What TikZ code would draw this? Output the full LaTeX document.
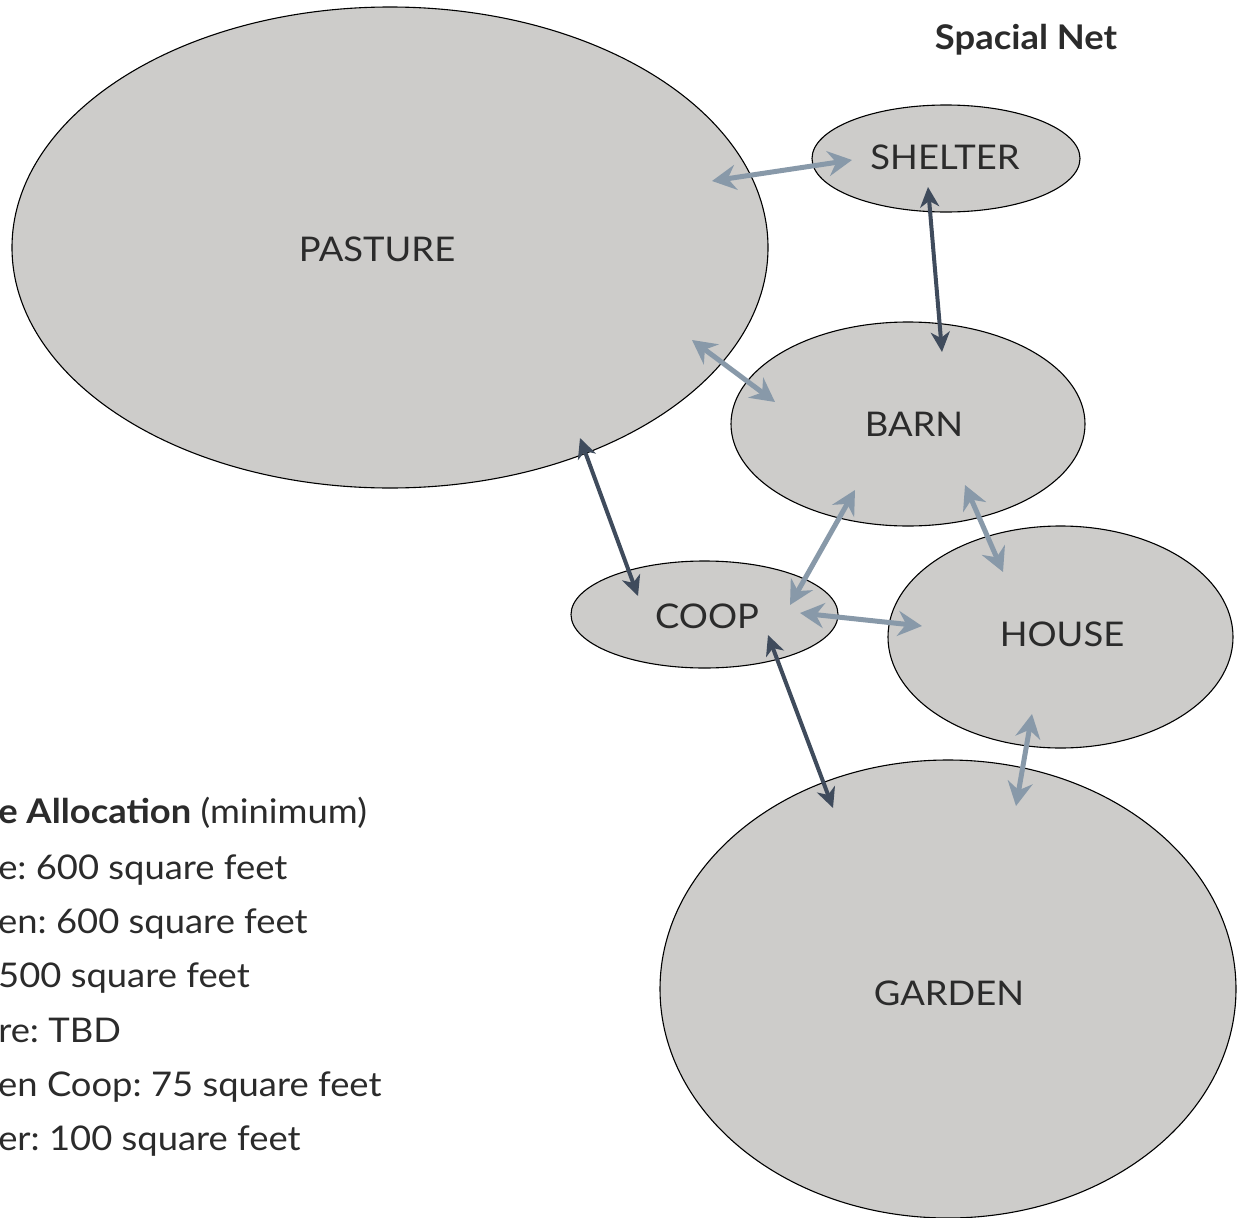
\documentclass[tikz,border=0pt]{standalone}
\usepackage{fontspec}
\setmainfont{Lato}[FakeStretch=1.07]
\usetikzlibrary{shapes.geometric,arrows.meta}
\definecolor{fillg}{HTML}{CDCCCA}
\definecolor{lightarr}{HTML}{8899A9}
\definecolor{darkarr}{HTML}{3F4B5C}
\definecolor{txt}{HTML}{2B2B2B}
\frenchspacing
\begin{document}
\begin{tikzpicture}[x=1pt,y=-1pt,
  area/.style={ellipse, draw=black, line width=1.1pt, fill=fillg, inner sep=0pt},
  lbl/.style={text=txt, font=\fontsize{34}{40}\selectfont, inner sep=0pt},
  legend/.style={text=txt, font=\fontsize{34}{40}\selectfont, inner sep=0pt, anchor=base west},
  lightlink/.style={draw=lightarr, line width=5pt,
    >={Stealth[length=24pt,width=25pt,inset=8pt]}, <->},
  darklink/.style={draw=darkarr, line width=4pt,
    >={Stealth[length=20pt,width=19pt,inset=6pt]}, <->}
]
\useasboundingbox (0,0) rectangle (1245,1218);
\clip (0,0) rectangle (1245,1218);

% areas
\node[area, minimum width=756pt, minimum height=481pt] (pasture) at (390,247.5) {};
\node[area, minimum width=268pt, minimum height=107pt] (shelter) at (946,158.5) {};
\node[area, minimum width=354pt, minimum height=204pt] (barn) at (908,424) {};
\node[area, minimum width=267pt, minimum height=107pt] (coop) at (704.5,614.5) {};
\node[area, minimum width=345pt, minimum height=222pt] (house) at (1060.5,637) {};
\node[area, minimum width=576pt, minimum height=458pt] (garden) at (948,989) {};

% labels
\node[lbl] (pastureL) at (377,249) {PASTURE};
\node[lbl] (shelterL) at (945,157) {SHELTER};
\node[lbl] (barnL) at (914,424) {BARN};
\node[lbl] (coopL) at (707,616) {COOP};
\node[lbl] (houseL) at (1062,634) {HOUSE};
\node[lbl] (gardenL) at (949,993) {GARDEN};
\node[text=txt, font=\fontsize{34}{40}\selectfont\bfseries, inner sep=0pt] (title) at (1026,40) {Spacial Net};

% connector end points
\coordinate (psA) at (712,181);  \coordinate (psB) at (852,160);
\coordinate (sbA) at (928,187);  \coordinate (sbB) at (942,352);
\coordinate (pbA) at (692,340);  \coordinate (pbB) at (775,402);
\coordinate (pcA) at (580,438);  \coordinate (pcB) at (638,596);
\coordinate (cbA) at (790,605);  \coordinate (cbB) at (855,490);
\coordinate (chA) at (800,613);  \coordinate (chB) at (922,626);
\coordinate (bhA) at (965,485);  \coordinate (bhB) at (1003,572);
\coordinate (cgA) at (768,635);  \coordinate (cgB) at (833,808);
\coordinate (hgA) at (1032,714); \coordinate (hgB) at (1016,806);

\draw[lightlink] (psA) -- (psB);
\draw[darklink]  (sbA) -- (sbB);
\draw[lightlink] (pbA) -- (pbB);
\draw[darklink]  (pcA) -- (pcB);
\draw[lightlink] (cbA) -- (cbB);
\draw[lightlink] (chA) -- (chB);
\draw[lightlink] (bhA) -- (bhB);
\draw[darklink]  (cgA) -- (cgB);
\draw[lightlink] (hgA) -- (hgB);

% legend
\node[legend] (lg1) at (-2,823) {\llap{\bfseries Spac}\textbf{e Allocation} (minimum)};
\node[legend] (lg2) at (-2,879) {\llap{Hous}e: 600 square feet};
\node[legend] (lg3) at (-2,933) {\llap{Gard}en: 600 square feet};
\node[legend] (lg4) at (-2,987) {\llap{Barn: }500 square feet};
\node[legend] (lg5) at (-2,1042) {\llap{Pastu}re: TBD};
\node[legend] (lg6) at (-2,1096) {\llap{Chick}en Coop: 75 square feet};
\node[legend] (lg7) at (-2,1150) {\llap{Shelt}er: 100 square feet};
\end{tikzpicture}
\end{document}
